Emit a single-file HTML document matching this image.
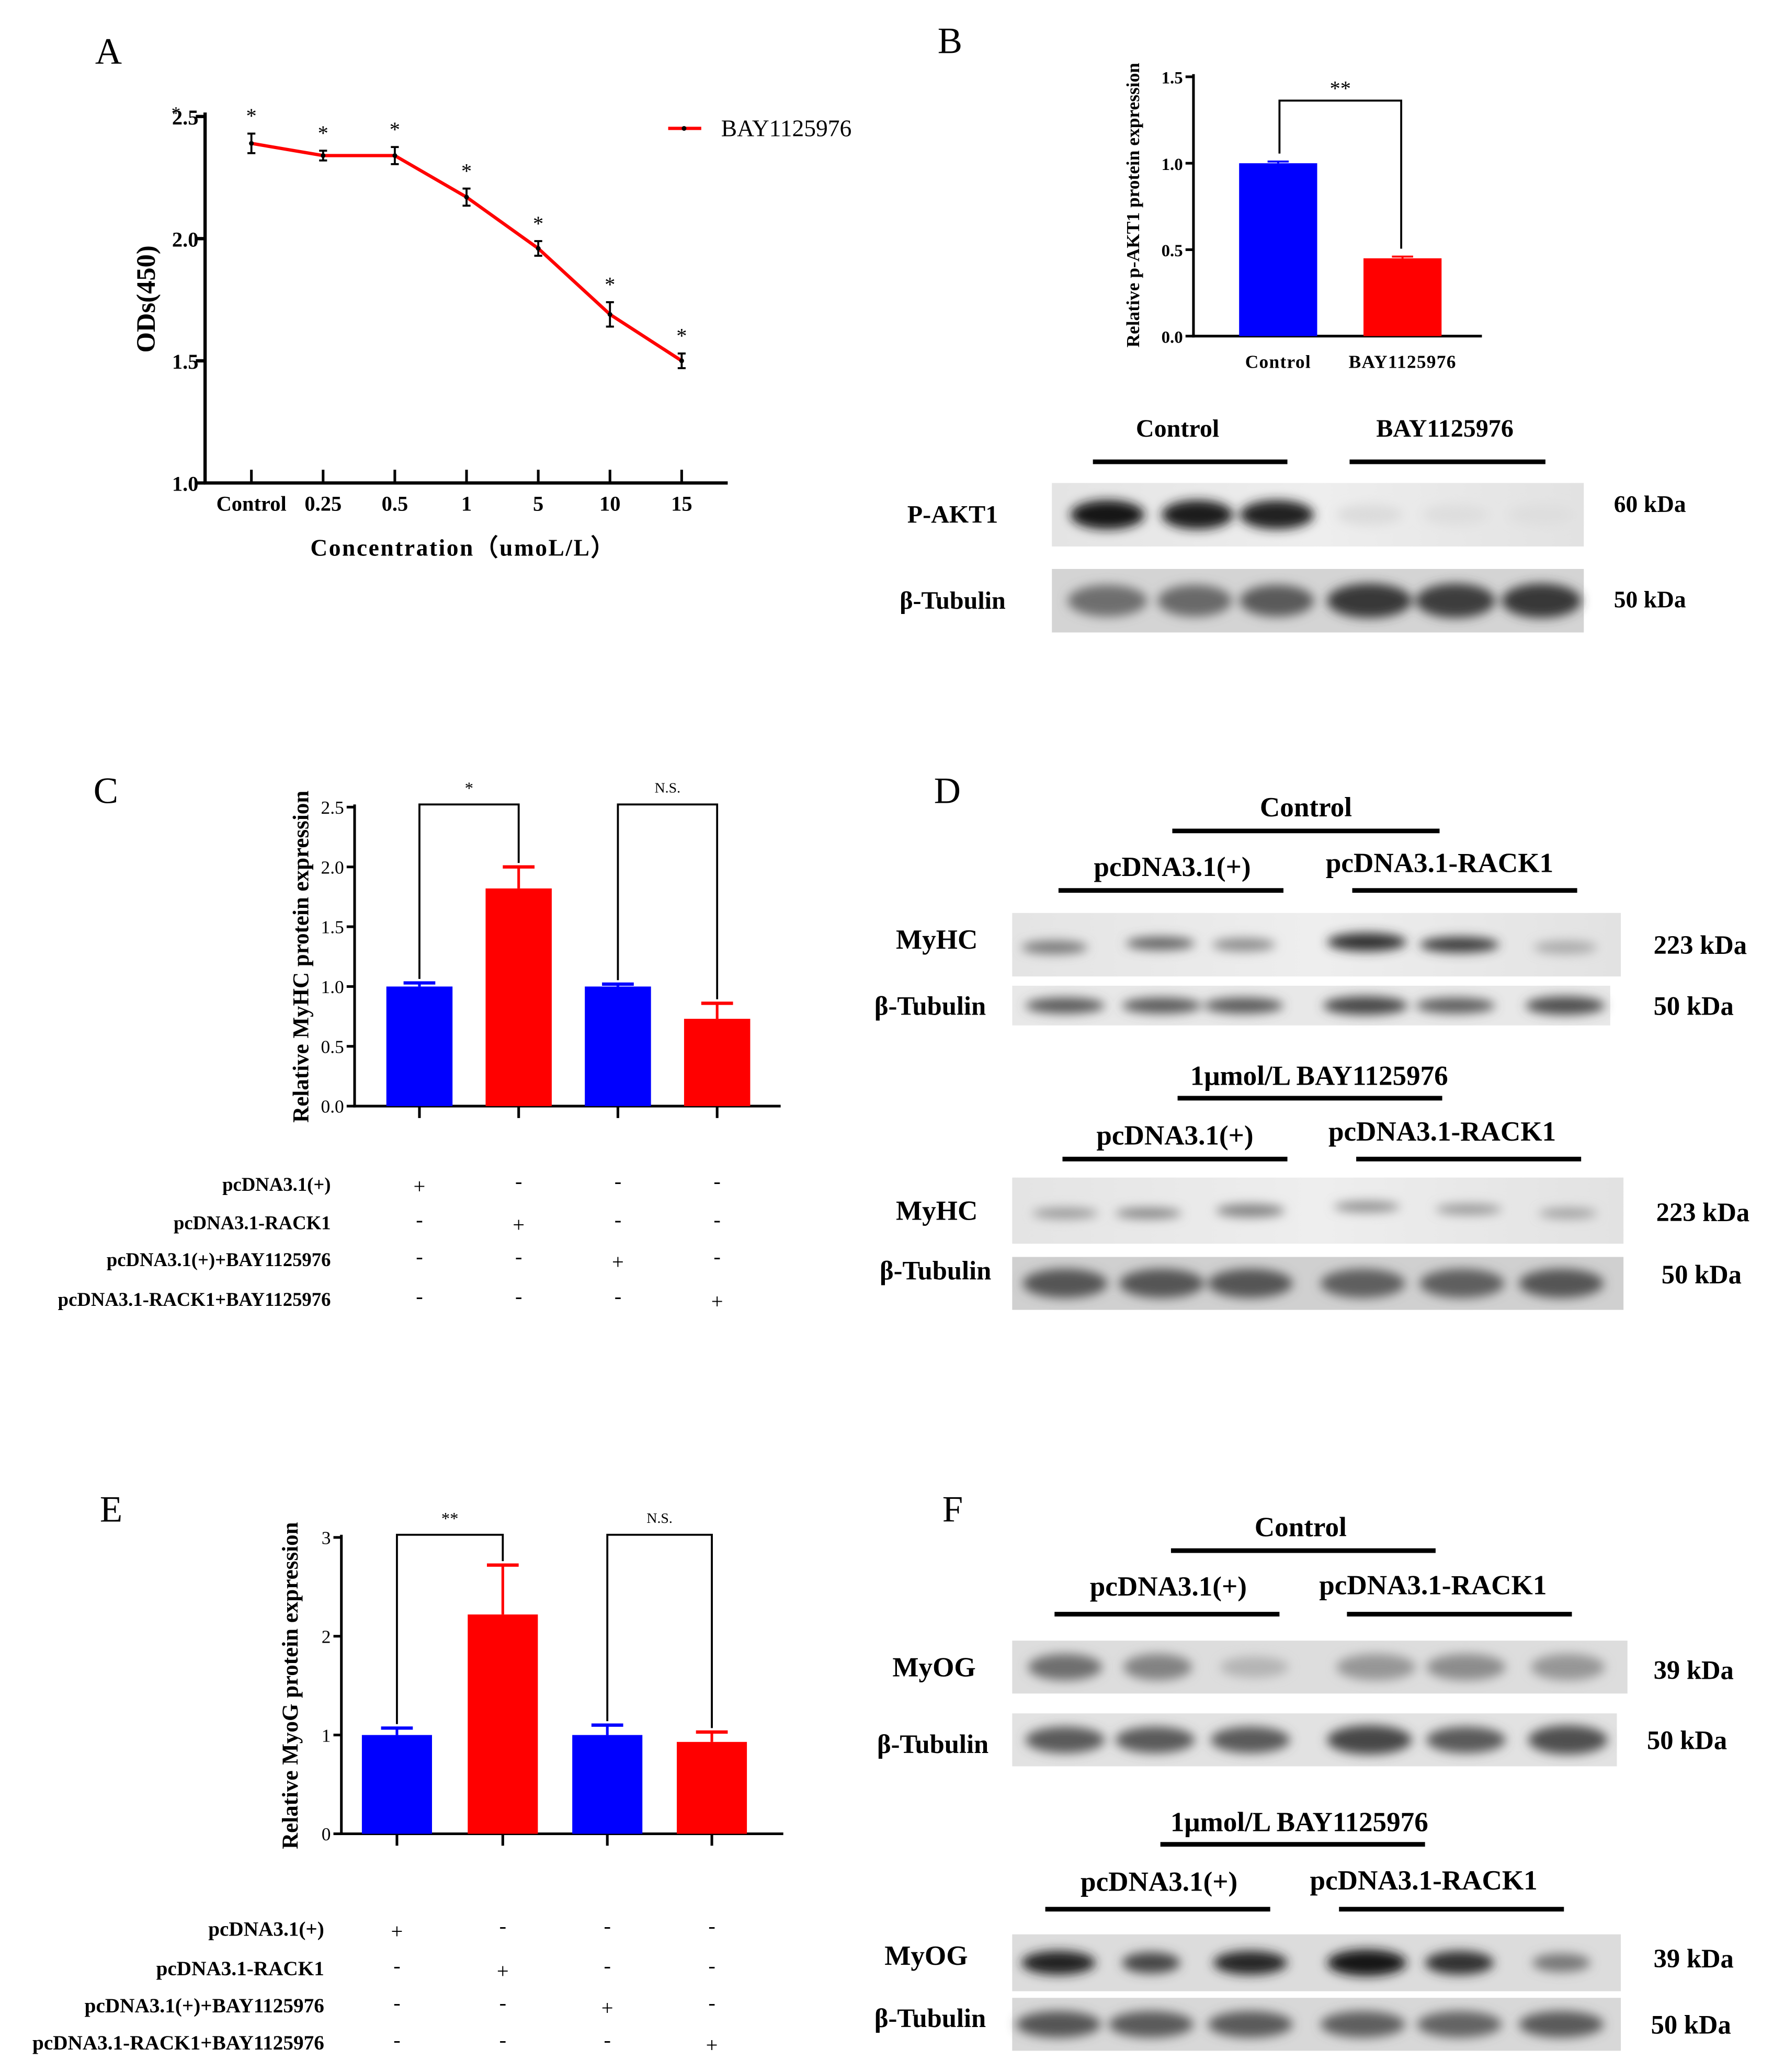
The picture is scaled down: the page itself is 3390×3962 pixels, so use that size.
<!DOCTYPE html>
<html><head><meta charset="utf-8">
<style>
html,body{margin:0;padding:0;background:#fff}
svg{display:block}
text{font-family:"Liberation Serif",serif;fill:#000}
</style></head>
<body>
<svg id="fig" width="3390" height="3962" viewBox="0 0 1340 1566" xmlns="http://www.w3.org/2000/svg">
<defs>
<filter id="blur" x="-50%" y="-100%" width="200%" height="300%"><feGaussianBlur stdDeviation="4"/></filter>
<linearGradient id="bg" x1="0" y1="0" x2="1" y2="0">
<stop offset="0" stop-color="#e4e4e4"/><stop offset="0.5" stop-color="#eeeeee"/><stop offset="1" stop-color="#e2e2e2"/></linearGradient>
</defs>
<g id="root"></g>
</svg>
<script>
const aCats = ["Control","0.25","0.5","1","5","10","15"];
const aVals = [2.39,2.34,2.34,2.17,1.96,1.69,1.50];
const aErr  = [0.04,0.02,0.035,0.035,0.03,0.05,0.03];
const aTicks = [1.0,1.5,2.0,2.5];
const bCats = ["Control","BAY1125976"];
const bVals = [1.0,0.45];
const bErr  = [0.01,0.01];
const bTicks = [0.0,0.5,1.0,1.5];
const cVals = [1.0,1.82,1.0,0.73];
const cErr  = [0.03,0.18,0.02,0.13];
const cTicks = [0.0,0.5,1.0,1.5,2.0,2.5];
const eVals = [1.0,2.22,1.0,0.93];
const eErr  = [0.07,0.5,0.1,0.1];
const eTicks = [0,1,2,3];
const rowLabels = ["pcDNA3.1(+)","pcDNA3.1-RACK1","pcDNA3.1(+)+BAY1125976","pcDNA3.1-RACK1+BAY1125976"];

const NS="http://www.w3.org/2000/svg";
const root=document.getElementById('root');
function el(tag,attrs,parent,txt){const e=document.createElementNS(NS,tag);for(const k in attrs)e.setAttribute(k,attrs[k]);if(txt!==undefined)e.textContent=txt;(parent||root).appendChild(e);return e;}
function grp(name){const g=el('g',{});return g;}
function txt(g,x,y,s,size,opts){opts=opts||{};const t=el('text',{x:x,y:y,'font-size':size,'text-anchor':opts.anchor||'middle','font-weight':opts.bold===false?'normal':'bold'},g,s);if(opts.rot)t.setAttribute('transform','rotate(-90 '+x+' '+y+')');if(opts.ls)t.setAttribute('letter-spacing',opts.ls);return t;}
function line(g,x1,y1,x2,y2,w,c){return el('line',{x1:x1,y1:y1,x2:x2,y2:y2,stroke:c||'#000','stroke-width':w||2},g);}

[["A",82,48],["B",718,40],["C",80,607],["D",716,607],["E",84,1150],["F",720,1150]].forEach(p=>{
  const g=grp('panel-label-'+p[0].toLowerCase());txt(g,p[1],p[2],p[0],28,{bold:false});});

(function(){
const g=grp('panel-a-line-chart');
const x0=155,x1=550,yb=365,yt=88;
const y=v=>yb-(v-1.0)/(2.5-1.0)*(yb-yt);
const xs=i=>190+i*54.2;
line(g,x0,yt-3,x0,yb+1,2.5);line(g,x0-1,yb,x1,yb,2.5);
aTicks.forEach(t=>{line(g,x0-7,y(t),x0,y(t),2.5);txt(g,x0-5,y(t)+6,t.toFixed(1),16,{anchor:'end'});});
aCats.forEach((c,i)=>{line(g,xs(i),yb,xs(i),yb-10,2);txt(g,xs(i),yb+21,c,16);});
const pts=aVals.map((v,i)=>xs(i)+','+y(v)).join(' ');
const pl=el('polyline',{points:pts,fill:'none',stroke:'#ff0000','stroke-width':2.5},g);

aVals.forEach((v,i)=>{
  const X=xs(i),t=y(v+aErr[i]),b=y(v-aErr[i]);
  line(g,X,t,X,b,1.5);line(g,X-3,t,X+3,t,1.5);line(g,X-3,b,X+3,b,1.5);
  const d=el('circle',{cx:X,cy:y(v),r:1.8,fill:'#000'},g);
  
  txt(g,X,t-8,'*',16,{bold:false});
});
txt(g,x0-22,y(2.5)+2,'*',14,{bold:false});
const lg=grp('legend-entry');line(lg,505,97,530,97,2.5,'#ff0000');el('circle',{cx:517,cy:97,r:1.8,fill:'#000'},lg);
txt(lg,545,103,'BAY1125976',18,{anchor:'start',bold:false});
txt(grp('y-axis-title-a'),117,226,'ODs(450)',20,{rot:true});
txt(grp('x-axis-title-a'),350,420,'Concentration（umoL/L）',18,{ls:1});
})();

(function(){
const g=grp('panel-b-bar-chart');
const x0=902,x1=1120,yb=254,yt=58;
const y=v=>yb-v/1.5*(yb-yt);
const cx=[966,1060],bw=59,cols=['#0000ff','#ff0000'];
line(g,x0,yt-2,x0,yb+1,2);line(g,x0-1,yb,x1,yb,2);
bTicks.forEach(t=>{line(g,x0-6,y(t),x0,y(t),2);txt(g,x0-8,y(t)+5,t.toFixed(1),13,{anchor:'end'});});
bVals.forEach((v,i)=>{
  const r=el('rect',{x:cx[i]-bw/2,y:y(v),width:bw,height:yb-y(v),fill:cols[i]},g);
  
  line(g,cx[i],y(v+bErr[i]),cx[i],y(v),1.5,cols[i]);line(g,cx[i]-8,y(v+bErr[i]),cx[i]+8,y(v+bErr[i]),1.5,cols[i]);
  txt(g,cx[i],278,bCats[i],14,{ls:0.5});
});
el('polyline',{points:`967,${y(bVals[0]+bErr[0])-6} 967,76 1059,76 1059,${y(bVals[1]+bErr[1])-6}`,fill:'none',stroke:'#000','stroke-width':1.5},g);
txt(g,1013,72,'**',16,{bold:false});
txt(grp('y-axis-title-b'),861,155,'Relative p-AKT1 protein expression',14,{rot:true});
})();

function blot(name,x,y,w,h,bands,bgc){
  const g=grp(name);
  el('rect',{x:x,y:y,width:w,height:h,fill:bgc||'url(#bg)'},g);
  const bg2=el('g',{filter:'url(#blur)'},g);
  bands.forEach((b,i)=>{
    const e=el('ellipse',{cx:b[0],cy:y+h/2+(b[3]||0),rx:b[1],ry:b[2],fill:'rgb('+b[4]+','+b[4]+','+b[4]+')'},bg2);
    
    
  });
  return g;
}
function header(name,items){const g=grp(name);items.forEach(it=>{txt(g,it[0],it[1],it[2],it[3]||21);if(it[4])line(g,it[4],it[5],it[6],it[5],3.5);});}
function lbl(g,x,y,s,size,anchor){txt(g,x,y,s,size||19,{anchor:anchor||'middle'});}

header('blot-b-header',[[890,330,'Control',19,826,349,973],[1092,330,'BAY1125976',19,1020,349,1168]]);
blot('blot-p-akt1',795,365,402,48,[[837,28,11,0,20],[905,27,11,0,30],[965,28,11,0,35],[1035,25,8,0,220],[1100,25,8,0,222],[1165,25,8,0,222]]);
blot('blot-b-tubulin',795,430,402,48,[[837,30,12,0,110],[903,28,12,0,105],[965,28,12,0,90],[1035,32,13,0,55],[1100,30,13,0,60],[1165,30,13,0,55]],'#d4d4d4');
(function(){const g=grp('blot-b-labels');lbl(g,720,395,'P-AKT1',19);lbl(g,720,460,'β-Tubulin',19);lbl(g,1247,387,'60 kDa',18);lbl(g,1247,459,'50 kDa',18);})();

function barPanel(name,vals,err,ticks,o){
  const g=grp(name);
  const y=v=>o.yb-v/o.max*(o.yb-o.yt);
  const cols=['#0000ff','#ff0000','#0000ff','#ff0000'];
  line(g,o.x0,o.yt-2,o.x0,o.yb+1,2);line(g,o.x0-1,o.yb,o.x1,o.yb,2);
  ticks.forEach(t=>{line(g,o.x0-6,y(t),o.x0,y(t),2);txt(g,o.x0-8,y(t)+5,o.dec?t.toFixed(1):String(t),14,{anchor:'end',bold:false});});
  const tops=[];
  vals.forEach((v,i)=>{
    const X=o.cx[i];
    const r=el('rect',{x:X-o.bw/2,y:y(v),width:o.bw,height:o.yb-y(v),fill:cols[i]},g);
    
    const et=y(v+err[i]);tops.push(et);
    line(g,X,et,X,y(v),2,cols[i]);line(g,X-12,et,X+12,et,2.5,cols[i]);
    line(g,X,o.yb,X,o.yb+9,2);
  });
  el('polyline',{points:`${o.cx[0]},${tops[0]-3} ${o.cx[0]},${o.bt} ${o.cx[1]},${o.bt} ${o.cx[1]},${tops[1]-3}`,fill:'none',stroke:'#000','stroke-width':1.5},g);
  el('polyline',{points:`${o.cx[2]},${tops[2]-3} ${o.cx[2]},${o.bt} ${o.cx[3]},${o.bt} ${o.cx[3]},${tops[3]-3}`,fill:'none',stroke:'#000','stroke-width':1.5},g);
  txt(g,(o.cx[0]+o.cx[1])/2,o.bt-8,o.sig,13,{bold:false});
  txt(g,(o.cx[2]+o.cx[3])/2,o.bt-9,'N.S.',11,{bold:false});
  txt(grp(name+'-y-title'),o.tx,(o.yt+o.yb)/2,o.title,17,{rot:true});
  const tg=grp(name+'-table');
  rowLabels.forEach((l,r)=>{
    txt(tg,o.lx,o.ry[r],l,o.fs,{anchor:'end'});
    o.cx.forEach((X,c)=>txt(tg,X,o.ry[r]+(r===c?2:-2),r===c?'+':'-',16,{bold:false}));
  });
}
barPanel('panel-c-bar-chart',cVals,cErr,cTicks,{x0:268,x1:590,yb:836,yt:610,max:2.5,dec:true,cx:[317,392,467,542],bw:50,bt:608,sig:'*',tx:233,title:'Relative MyHC protein expression',lx:250,ry:[900,929,957,987],fs:14.5});
barPanel('panel-e-bar-chart',eVals,eErr,eTicks,{x0:258,x1:592,yb:1386,yt:1162,max:3,dec:false,cx:[300,380,459,538],bw:53,bt:1160,sig:'**',tx:225,title:'Relative MyoG protein expression',lx:245,ry:[1463,1493,1521,1549],fs:15.5});

header('blot-d-header-1',[[987,617,'Control',21,886,628,1088],[886,662,'pcDNA3.1(+)',21,800,673,970],[1088,659,'pcDNA3.1-RACK1',21,1022,673,1192]]);
blot('blot-d-myhc-1',765,690,460,48,[[797,25,5,2,120],[877,26,5,-1,100],[940,24,5,0,140],[1033,30,7,-2,50],[1103,30,6,0,60],[1183,24,5,2,170]]);
blot('blot-d-tubulin-1',765,745,452,30,[[805,30,6,0,90],[878,30,6,0,90],[940,30,6,0,90],[1032,32,7,0,70],[1100,30,6,0,95],[1183,30,7,0,80]],'#e8e8e8');
header('blot-d-header-2',[[997,820,'1μmol/L  BAY1125976',21,890,830,1090],[888,865,'pcDNA3.1(+)',21,803,876,973],[1090,862,'pcDNA3.1-RACK1',21,1025,876,1195]]);
blot('blot-d-myhc-2',765,890,462,50,[[805,25,4,2,150],[868,25,4,2,130],[945,26,5,0,130],[1033,25,4,-3,140],[1110,25,4,-1,150],[1185,22,4,2,160]]);
blot('blot-d-tubulin-2',765,950,462,40,[[805,32,11,0,85],[878,32,11,0,85],[945,32,11,0,85],[1030,32,11,0,95],[1105,32,11,0,95],[1180,32,11,0,85]],'#d0d0d0');
(function(){const g=grp('blot-d-labels');lbl(g,708,717,'MyHC',21);lbl(g,703,767,'β-Tubulin',20);lbl(g,708,922,'MyHC',21);lbl(g,707,967,'β-Tubulin',20);
lbl(g,1285,721,'223 kDa',20);lbl(g,1280,767,'50 kDa',20);lbl(g,1287,923,'223 kDa',20);lbl(g,1286,970,'50 kDa',20);})();

header('blot-f-header-1',[[983,1161,'Control',21,885,1172,1085],[883,1206,'pcDNA3.1(+)',21,797,1220,967],[1083,1205,'pcDNA3.1-RACK1',21,1018,1220,1188]]);
blot('blot-f-myog-1',765,1240,465,40,[[805,28,10,0,110],[875,26,10,0,130],[948,26,8,0,180],[1040,30,10,0,150],[1108,30,10,0,140],[1185,28,10,0,150]],'#dddddd');
blot('blot-f-tubulin-1',765,1295,457,40,[[805,30,10,0,90],[873,30,10,0,90],[945,30,10,0,90],[1035,32,11,0,70],[1108,30,10,0,90],[1185,30,11,0,80]],'#e2e2e2');
header('blot-f-header-2',[[982,1384,'1μmol/L  BAY1125976',21,877,1394,1077],[876,1429,'pcDNA3.1(+)',21,790,1443,960],[1076,1428,'pcDNA3.1-RACK1',21,1012,1443,1182]]);
blot('blot-f-myog-2',765,1462,460,43,[[800,28,9,0,35],[870,22,8,0,70],[945,28,9,0,40],[1033,30,10,0,20],[1103,26,9,0,50],[1180,22,7,0,120]],'#dcdcdc');
blot('blot-f-tubulin-2',765,1510,460,40,[[800,32,10,0,85],[870,32,10,0,90],[945,32,10,0,90],[1030,32,10,0,95],[1103,32,10,0,100],[1180,32,10,0,90]],'#d8d8d8');
(function(){const g=grp('blot-f-labels');lbl(g,706,1267,'MyOG',21);lbl(g,705,1325,'β-Tubulin',20);lbl(g,700,1485,'MyOG',21);lbl(g,703,1532,'β-Tubulin',20);
lbl(g,1280,1269,'39 kDa',20);lbl(g,1275,1322,'50 kDa',20);lbl(g,1280,1487,'39 kDa',20);lbl(g,1278,1537,'50 kDa',20);})();
</script>
</body></html>
